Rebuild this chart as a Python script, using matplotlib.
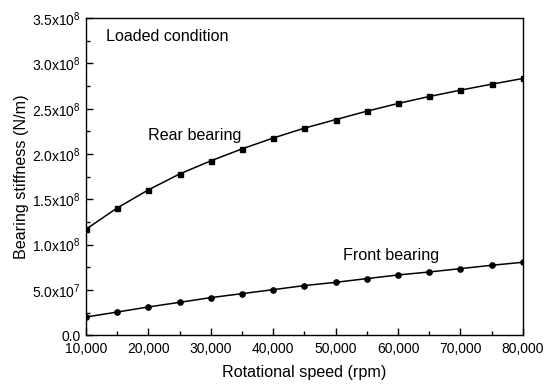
import matplotlib
matplotlib.use("Agg")
import matplotlib.pyplot as plt
from matplotlib.ticker import MultipleLocator, FuncFormatter

plt.rcParams["font.family"] = "Liberation Sans"
plt.rcParams["mathtext.fontset"] = "custom"
plt.rcParams["mathtext.rm"] = "Liberation Sans"
plt.rcParams["mathtext.it"] = "Liberation Sans"

# rotational speed (rpm)
speed = [10000, 15000, 20000, 25000, 30000, 35000, 40000, 45000,
         50000, 55000, 60000, 65000, 70000, 75000, 80000]

# bearing stiffness (N/m) under load
rear = [1.17e8, 1.405e8, 1.605e8, 1.78e8, 1.925e8, 2.057e8, 2.177e8, 2.286e8,
        2.38e8, 2.473e8, 2.558e8, 2.635e8, 2.705e8, 2.771e8, 2.834e8]
front = [0.202e8, 0.257e8, 0.313e8, 0.364e8, 0.416e8, 0.46e8, 0.504e8, 0.549e8,
         0.585e8, 0.626e8, 0.666e8, 0.699e8, 0.736e8, 0.773e8, 0.806e8]


def sci_label(v, pos):
    if v == 0:
        return "0.0"
    exp = len(str(int(v))) - 1
    mant = v / 10 ** exp
    return "%.1fx10$^{%d}$" % (mant, exp)


fig = plt.figure(figsize=(5.51, 3.85), dpi=100)
ax = fig.add_axes([0.156, 0.129, 0.793, 0.824])

ax.plot(speed, rear, color="black", lw=1.1, marker="s", ms=3.6)
ax.plot(speed, front, color="black", lw=1.1, marker="o", ms=3.8)

ax.set_xlim(10000, 80000)
ax.set_ylim(0, 3.5e8)
ax.xaxis.set_major_locator(MultipleLocator(10000))
ax.xaxis.set_minor_locator(MultipleLocator(5000))
ax.yaxis.set_major_locator(MultipleLocator(0.5e8))
ax.yaxis.set_minor_locator(MultipleLocator(0.25e8))
ax.xaxis.set_major_formatter(FuncFormatter(lambda v, p: "{:,}".format(int(v))))
ax.yaxis.set_major_formatter(FuncFormatter(sci_label))

ax.tick_params(which="both", direction="in", labelsize=10, width=1)
ax.tick_params(which="major", length=5)
ax.tick_params(which="minor", length=3)
ax.tick_params(axis="x", pad=5)
ax.tick_params(axis="y", pad=4)
for s in ax.spines.values():
    s.set_linewidth(1)

ax.set_xlabel("Rotational speed (rpm)", fontsize=11.6, labelpad=6)
ax.set_ylabel("Bearing stiffness (N/m)", fontsize=11.6, labelpad=2)

ax.text(13200, 3.3e8, "Loaded condition", fontsize=11.6, va="center")
ax.text(19900, 2.2e8, "Rear bearing", fontsize=11.6, va="center")
ax.text(51200, 0.878e8, "Front bearing", fontsize=11.6, va="center")

fig.savefig("out.png", dpi=100)
